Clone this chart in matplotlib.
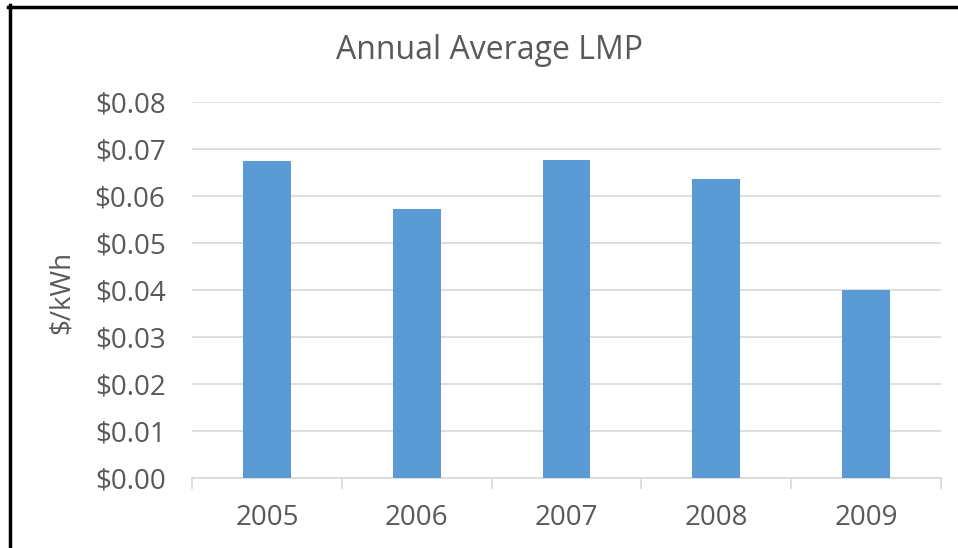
import matplotlib
matplotlib.use("Agg")
import matplotlib.pyplot as plt
from matplotlib.lines import Line2D
from matplotlib.ticker import FuncFormatter, MultipleLocator

years = ["2005", "2006", "2007", "2008", "2009"]
lmp = [0.0674, 0.0572, 0.0677, 0.0636, 0.0400]

plt.rcParams['font.family'] = ['Open Sans', 'DejaVu Sans']
txt = '#595959'

fig = plt.figure(figsize=(9.58, 5.48), dpi=100)
ax = fig.add_axes([192/958, 1-478/548, (941-192)/958, (478-102)/548])

x = list(range(len(years)))
ax.bar(x, lmp, width=0.32, color='#5B9BD5', zorder=3)
ax.set_xlim(-0.5, len(years)-0.5)
ax.set_ylim(0, 0.08)
ax.yaxis.set_major_locator(MultipleLocator(0.01))
ax.yaxis.set_major_formatter(FuncFormatter(lambda v, p: f"${v:.2f}"))
ax.grid(axis='y', color='#D9D9D9', linewidth=1.2, zorder=0)
ax.set_axisbelow(True)
for s in ['top', 'right', 'left']:
    ax.spines[s].set_visible(False)
ax.spines['bottom'].set_color('#D9D9D9')
ax.spines['bottom'].set_linewidth(1.2)
ax.set_xticks(x)
ax.set_xticklabels(years)
ax.set_xticks([i-0.5 for i in range(len(years)+1)], minor=True)
ax.tick_params(axis='x', which='major', length=0, pad=19, labelsize=20, labelcolor=txt)
ax.tick_params(axis='x', which='minor', length=8, width=1.2, color='#D9D9D9')
ax.tick_params(axis='y', length=0, pad=19, labelsize=20, labelcolor=txt)
fig.text(62/958, 1-292/548, "$/kWh", rotation=90, ha='center', va='center', fontsize=20, color=txt)
fig.text(490/958, 1-50/548, "Annual Average LMP", ha='center', va='center', fontsize=23, color=txt)

fig.add_artist(Line2D([9.5/958, 9.5/958], [0, 1-5/548], transform=fig.transFigure, color='black', linewidth=2.5))
fig.add_artist(Line2D([8/958, 1], [1-6.5/548, 1-6.5/548], transform=fig.transFigure, color='black', linewidth=2.5))

fig.savefig("out.png", dpi=100)
